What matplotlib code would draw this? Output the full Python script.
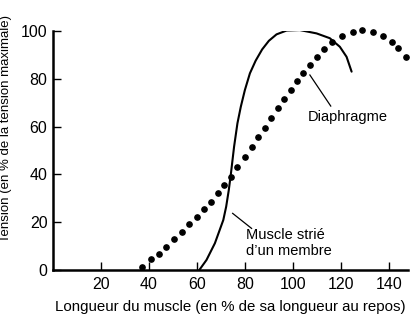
import matplotlib
matplotlib.use("Agg")
import matplotlib.pyplot as plt

plt.rcParams['font.family'] = ['Liberation Sans', 'DejaVu Sans']

# muscle strie d'un membre (courbe continue)
membre_x = [61, 64, 67.5, 71, 72.2, 73.3, 74.2, 75.5, 76.9, 78.3, 80, 82.1, 84.5, 87.2,
            90.0, 93.2, 97.4, 102.9, 109.9, 115.4, 119.6, 122.4, 124.5]
membre_y = [0, 4.2, 11.2, 20.9, 26.5, 33.5, 40.5, 51.6, 61.4, 68.3, 75.3, 82.3, 87.6, 92.3,
            95.9, 98.6, 100.2, 100.4, 99, 97, 93.4, 89.2, 83]

# diaphragme (points)
diaph_x = [37.2, 40.7, 44, 47.1, 50.4, 53.6, 56.8, 60.1, 63, 65.8, 68.6, 71.4, 74.4,
           76.9, 80, 82.8, 85.5, 88.3, 91.1, 93.9, 96.4, 99.2, 101.8, 104.3, 107.1,
           109.9, 113, 116.5, 120.5, 124.9, 129, 133.5, 137.6, 141.3, 143.9, 147]
diaph_y = [1.4, 4.5, 6.7, 9.8, 12.8, 15.9, 19.1, 22.3, 25.5, 28.6, 32.1, 35.6, 39,
           43, 47.4, 51.6, 55.8, 59.5, 63.7, 67.7, 71.7, 75.2, 79, 82.3, 85.7,
           89, 92.4, 95.3, 98, 99.5, 100.4, 99.5, 98, 95.3, 92.8, 89.2]

xticks = [20, 40, 60, 80, 100, 120, 140]
yticks = [0, 20, 40, 60, 80, 100]

fig = plt.figure(figsize=(4.18, 3.31), dpi=100)
ax = fig.add_axes([0.1268, 0.1843, 0.976 - 0.1268, 0.9063 - 0.1843])

ax.plot(membre_x, membre_y, color='black', lw=1.5, solid_capstyle='round',
        solid_joinstyle='round')
ax.plot(diaph_x, diaph_y, 'o', color='black', ms=3.8, clip_on=False)

ax.set_xlim(0, 148)
ax.set_ylim(0, 100)
ax.set_xticks(xticks)
ax.set_yticks(yticks)
ax.spines['top'].set_visible(False)
ax.spines['right'].set_visible(False)
ax.spines['left'].set_linewidth(1.8)
ax.spines['bottom'].set_linewidth(1.8)
ax.tick_params(axis='both', direction='in', length=6, width=1, labelsize=11.5, pad=5)
ax.tick_params(axis='y', pad=4)

ax.set_xlabel('Longueur du muscle (en % de sa longueur au repos)', fontsize=10.8, labelpad=6)
fig.text(0.0145, 0.613, 'Tension (en % de la tension maximale)', rotation=90,
         fontsize=9.5, ha='center', va='center')

ax.plot([107.1, 115.8], [81.6, 68.6], color='black', lw=0.9)
ax.text(106.3, 64, 'Diaphragme', fontsize=10.5, va='center', ha='left')
ax.plot([74.9, 82.8], [23.7, 17.4], color='black', lw=0.9)
ax.text(80.3, 11.2, 'Muscle strié\nd\u2019un membre', fontsize=10.5, va='center', ha='left',
        linespacing=1.15)

fig.savefig('out.png', dpi=100)
